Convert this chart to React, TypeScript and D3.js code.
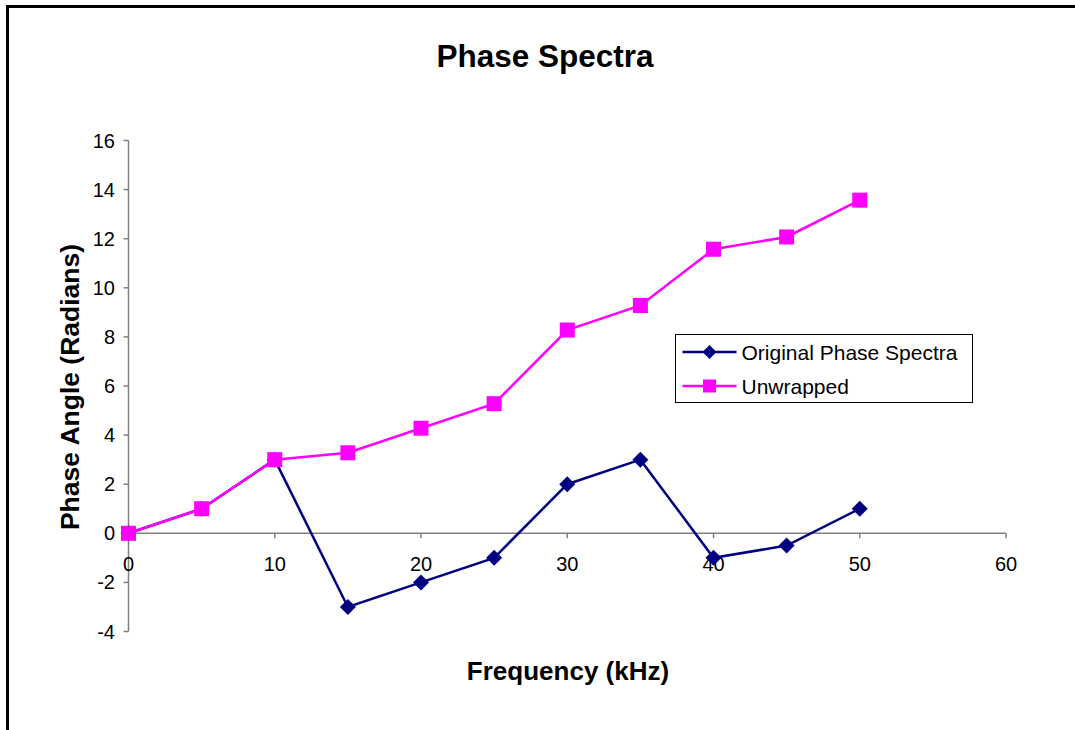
import React, { useRef, useEffect } from "react";
import * as d3 from "d3";

// Phase spectra data (frequency in kHz, phase in radians)
const frequencies = [0, 5, 10, 15, 20, 25, 30, 35, 40, 45, 50];
const originalPhase = [0, 1, 3, -3, -2, -1, 2, 3, -1, -0.5, 1];
const unwrappedPhase = [0, 1, 3, 3.28, 4.28, 5.28, 8.28, 9.28, 11.57, 12.07, 13.57];

const xTicks = [0, 10, 20, 30, 40, 50, 60];
const yTicks = [-4, -2, 0, 2, 4, 6, 8, 10, 12, 14, 16];

const seriesNames = ["Original Phase Spectra", "Unwrapped"];

const FONT = "'Liberation Sans', Arial, Helvetica, sans-serif";

const App = () => {
  const svgRef = useRef(null);

  useEffect(() => {
    if (!svgRef.current) return;

    const width = 1075;
    const height = 730;

    const svg = d3.select(svgRef.current).attr("width", width).attr("height", height);
    svg.selectAll("*").remove();

    svg.append("rect").attr("width", width).attr("height", height).style("fill", "white");

    // chart frame (only top + left edges show in the picture)
    svg
      .append("rect")
      .attr("x", 7.5)
      .attr("y", 6.5)
      .attr("width", 1200)
      .attr("height", 900)
      .style("fill", "none")
      .style("stroke", "black")
      .style("stroke-width", 3);

    const x = d3.scaleLinear().domain([0, 60]).range([128.5, 1006]);
    const y = d3.scaleLinear().domain([-4, 16]).range([631.5, 140.5]);

    const axisColor = "#808080";

    // y axis
    const yAxis = svg.append("g");
    yAxis
      .append("line")
      .attr("x1", x(0))
      .attr("x2", x(0))
      .attr("y1", y(-4))
      .attr("y2", y(16))
      .style("stroke", axisColor)
      .style("stroke-width", 1.5);

    yAxis
      .selectAll(".ytick")
      .data(yTicks)
      .enter()
      .append("line")
      .attr("x1", x(0) - 5)
      .attr("x2", x(0))
      .attr("y1", (d) => y(d))
      .attr("y2", (d) => y(d))
      .style("stroke", axisColor)
      .style("stroke-width", 1.5);

    yAxis
      .selectAll(".ylabel")
      .data(yTicks)
      .enter()
      .append("text")
      .attr("x", 115)
      .attr("y", (d) => y(d) + 7)
      .attr("text-anchor", "end")
      .style("font-family", FONT)
      .style("font-size", "20px")
      .text((d) => d);

    // x axis sits on zero
    const xAxis = svg.append("g");
    xAxis
      .append("line")
      .attr("x1", x(0))
      .attr("x2", x(60))
      .attr("y1", y(0))
      .attr("y2", y(0))
      .style("stroke", axisColor)
      .style("stroke-width", 1.5);

    xAxis
      .selectAll(".xtick")
      .data(xTicks)
      .enter()
      .append("line")
      .attr("x1", (d) => x(d))
      .attr("x2", (d) => x(d))
      .attr("y1", y(0))
      .attr("y2", y(0) + 5)
      .style("stroke", axisColor)
      .style("stroke-width", 1.5);

    xAxis
      .selectAll(".xlabel")
      .data(xTicks)
      .enter()
      .append("text")
      .attr("x", (d) => x(d))
      .attr("y", 571)
      .attr("text-anchor", "middle")
      .style("font-family", FONT)
      .style("font-size", "20px")
      .text((d) => d);

    const line = d3
      .line<[number, number]>()
      .x((d) => x(d[0]))
      .y((d) => y(d[1]));

    const navy = "#000080";
    const magenta = "#FF00FF";

    const origPts: [number, number][] = frequencies.map((f, i) => [f, originalPhase[i]]);
    const unwrapPts: [number, number][] = frequencies.map((f, i) => [f, unwrappedPhase[i]]);

    // Original series
    svg
      .append("path")
      .datum(origPts)
      .attr("d", line)
      .style("fill", "none")
      .style("stroke", navy)
      .style("stroke-width", 2.5);

    const diamond = (cx: number, cy: number, r: number) =>
      `M${cx},${cy - r}L${cx + r},${cy}L${cx},${cy + r}L${cx - r},${cy}Z`;

    svg
      .selectAll(".diamond")
      .data(origPts)
      .enter()
      .append("path")
      .attr("d", (d) => diamond(x(d[0]), y(d[1]), 8))
      .style("fill", navy);

    // Unwrapped series
    svg
      .append("path")
      .datum(unwrapPts)
      .attr("d", line)
      .style("fill", "none")
      .style("stroke", magenta)
      .style("stroke-width", 2.5);

    svg
      .selectAll(".square")
      .data(unwrapPts)
      .enter()
      .append("rect")
      .attr("x", (d) => x(d[0]) - 7.5)
      .attr("y", (d) => y(d[1]) - 7.5)
      .attr("width", 15)
      .attr("height", 15)
      .style("fill", magenta);

    // Legend
    const legend = svg.append("g").attr("transform", "translate(675.5, 334.5)");
    legend
      .append("rect")
      .attr("width", 297)
      .attr("height", 68)
      .style("fill", "white")
      .style("stroke", "black")
      .style("stroke-width", 1);

    const rows = legend
      .selectAll(".item")
      .data(seriesNames)
      .enter()
      .append("g")
      .attr("transform", (d, i) => `translate(0, ${17.5 + i * 34})`);

    rows
      .append("line")
      .attr("x1", 7)
      .attr("x2", 61)
      .style("stroke", (d, i) => (i === 0 ? navy : magenta))
      .style("stroke-width", 2.5);

    rows
      .filter((d, i) => i === 0)
      .append("path")
      .attr("d", diamond(34, 0, 7))
      .style("fill", navy);

    rows
      .filter((d, i) => i === 1)
      .append("rect")
      .attr("x", 27.5)
      .attr("y", -6.5)
      .attr("width", 13)
      .attr("height", 13)
      .style("fill", magenta);

    rows
      .append("text")
      .attr("x", 66)
      .attr("y", 7.5)
      .style("font-family", FONT)
      .style("font-size", "21px")
      .text((d) => d);

    // Titles
    svg
      .append("text")
      .attr("x", 545)
      .attr("y", 67)
      .attr("text-anchor", "middle")
      .style("font-family", FONT)
      .style("font-weight", "bold")
      .style("font-size", "31.5px")
      .text("Phase Spectra");

    svg
      .append("text")
      .attr("x", 568)
      .attr("y", 680)
      .attr("text-anchor", "middle")
      .style("font-family", FONT)
      .style("font-weight", "bold")
      .style("font-size", "26px")
      .text("Frequency (kHz)");

    svg
      .append("text")
      .attr("transform", "translate(79, 387) rotate(-90)")
      .attr("text-anchor", "middle")
      .style("font-family", FONT)
      .style("font-weight", "bold")
      .style("font-size", "26.5px")
      .text("Phase Angle (Radians)");
  }, []);

  return (
    <div style={{ position: "absolute", left: 0, top: 0 }}>
      <svg ref={svgRef} style={{ display: "block" }} />
    </div>
  );
};

export default App;
